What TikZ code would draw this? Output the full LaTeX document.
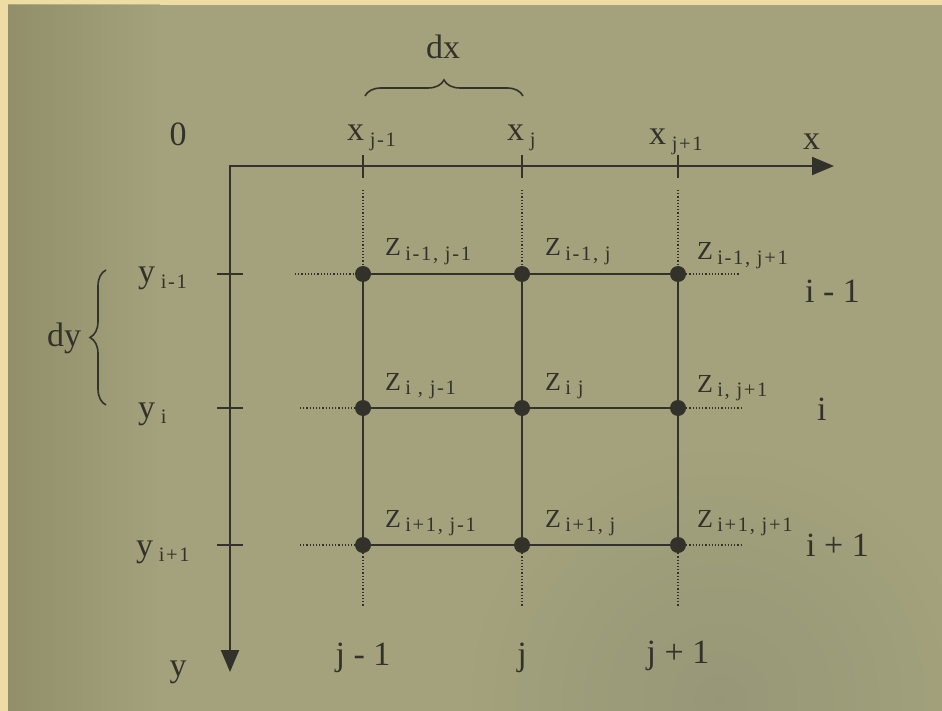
\documentclass[tikz,border=0pt]{standalone}
\usepackage{fontspec}
\setmainfont{Liberation Serif}
\newfontfamily\subfont[LetterSpace=8]{Liberation Serif}
\usetikzlibrary{arrows.meta,decorations.pathreplacing}
\definecolor{framec}{HTML}{EDDCA4}
\definecolor{paperc}{HTML}{A3A27C}
\definecolor{paperdark}{HTML}{85845F}
\definecolor{inkc}{HTML}{33322A}
\newcommand\mainfs{\fontsize{34}{38}\selectfont}
\newcommand\zfs{\fontsize{26}{29}\selectfont}
\newcommand\subfs{\subfont\fontsize{20.5}{23}\selectfont}
\newcommand\lowsub[1]{\,\raisebox{-0.35ex}{\subfs #1}}
\tikzset{
  axisline/.style={draw=inkc, line width=2.1pt},
  gridline/.style={draw=inkc, line width=2.1pt},
  extline/.style={draw=inkc, line width=1.2pt, dotted},
  tickline/.style={draw=inkc, line width=1.8pt},
  gpt/.style={circle, fill=inkc, minimum size=16pt, inner sep=0pt},
  lbl/.style={text=inkc, font=\mainfs, inner sep=0pt},
  zlbl/.style={text=inkc, font=\zfs, inner sep=0pt, anchor=base west},
  bracel/.style={draw=inkc, line width=1.6pt, decorate, decoration={brace, amplitude=16pt}}
}
\begin{document}
\begin{tikzpicture}[x=1pt,y=-1pt]
\useasboundingbox (0,0) rectangle (942,711);
\fill[framec] (0,0) rectangle (942,711);
\fill[paperc] (8,5) rectangle (942,711);
\shade[left color=paperdark, right color=paperc, opacity=0.6] (8,5) rectangle (160,711);
\begin{scope}
\clip (8,5) rectangle (942,711);
\shade[inner color=paperdark!85, outer color=paperc] (720,700) circle (260);
\end{scope}
% axes
\coordinate (O) at (230,166);
\coordinate (xe) at (834,166);
\coordinate (ye) at (230,672);
\draw[axisline, {Triangle[length=22pt,width=18pt]}-{Triangle[length=22pt,width=18pt]}] (xe) -- (O) -- (ye);
% x ticks
\foreach \n/\x in {t1/363,t2/522,t3/678}{
  \draw[tickline] (\x,155) coordinate (\n a) -- (\x,178) coordinate (\n b);
}
% y ticks
\foreach \n/\y in {s1/274,s2/408,s3/545}{
  \draw[tickline] (217,\y) coordinate (\n a) -- (243,\y) coordinate (\n b);
}
% grid points
\node[gpt] (a1) at (363,274) {};
\node[gpt] (b1) at (522,274) {};
\node[gpt] (c1) at (678,274) {};
\node[gpt] (a2) at (363,408) {};
\node[gpt] (b2) at (522,408) {};
\node[gpt] (c2) at (678,408) {};
\node[gpt] (a3) at (363,545) {};
\node[gpt] (b3) at (522,545) {};
\node[gpt] (c3) at (678,545) {};
% extension ends
\coordinate (a0) at (363,190); \coordinate (b0) at (522,190); \coordinate (c0) at (678,190);
\coordinate (a4) at (363,606); \coordinate (b4) at (522,606); \coordinate (c4) at (678,606);
\coordinate (l1) at (295,274); \coordinate (l2) at (300,408); \coordinate (l3) at (300,545);
\coordinate (r1) at (740,274); \coordinate (r2) at (742,408); \coordinate (r3) at (742,545);
% grid lines
\draw[gridline] (a1) -- (b1) -- (c1);
\draw[gridline] (a2) -- (b2) -- (c2);
\draw[gridline] (a3) -- (b3) -- (c3);
\draw[gridline] (a1) -- (a2) -- (a3);
\draw[gridline] (b1) -- (b2) -- (b3);
\draw[gridline] (c1) -- (c2) -- (c3);
% dotted extensions
\foreach \p/\q in {a0/a1,b0/b1,c0/c1,a3/a4,b3/b4,c3/c4,l1/a1,l2/a2,l3/a3,c1/r1,c2/r2,c3/r3}{
  \draw[extline] (\p) -- (\q);
}
% braces
\draw[bracel] (365,96) coordinate (dxa) -- (523,96) coordinate (dxb);
\draw[bracel] (106,405) coordinate (dya) -- (106,270) coordinate (dyb);
\node[lbl] (dx) at (443,47) {dx};
\node[lbl] (dy) at (64,338) {dy};
% axis labels
\node[lbl] (zero) at (178,134) {0};
\node[lbl, anchor=base west] (xj1) at (347,141) {x\lowsub{j-1}};
\node[lbl, anchor=base west] (xj) at (507,141) {x\lowsub{j}};
\node[lbl, anchor=base west] (xj2) at (649,145) {x\lowsub{j+1}};
\node[lbl, anchor=base west] (xlab) at (803,150) {x};
\node[lbl, anchor=base west] (yi1) at (138,283) {y\lowsub{i-1}};
\node[lbl, anchor=base west] (yi) at (138,418) {y\lowsub{i}};
\node[lbl, anchor=base west] (yi2) at (136,556) {y\lowsub{i+1}};
\node[lbl] (ylab) at (178,672) {y};
% z labels
\node[zlbl] (z11) at (385,256) {Z\lowsub{i-1, j-1}};
\node[zlbl] (z12) at (545,256) {Z\lowsub{i-1, j}};
\node[zlbl] (z13) at (697,260) {Z\lowsub{i-1, j+1}};
\node[zlbl] (z21) at (385,390) {Z\lowsub{i , j-1}};
\node[zlbl] (z22) at (545,390) {Z\lowsub{i j}};
\node[zlbl] (z23) at (697,392) {Z\lowsub{i, j+1}};
\node[zlbl] (z31) at (385,527) {Z\lowsub{i+1, j-1}};
\node[zlbl] (z32) at (545,527) {Z\lowsub{i+1, j}};
\node[zlbl] (z33) at (697,527) {Z\lowsub{i+1, j+1}};
% row labels
\node[lbl, anchor=base west] (ri1) at (805,302) {i - 1};
\node[lbl, anchor=base west] (ri) at (817,420) {i};
\node[lbl, anchor=base west] (ri2) at (806,556) {i + 1};
% column labels
\node[lbl, anchor=base] (cj1) at (363,665) {j - 1};
\node[lbl, anchor=base] (cj) at (522,665) {j};
\node[lbl, anchor=base] (cj2) at (678,663) {j + 1};
\end{tikzpicture}
\end{document}
